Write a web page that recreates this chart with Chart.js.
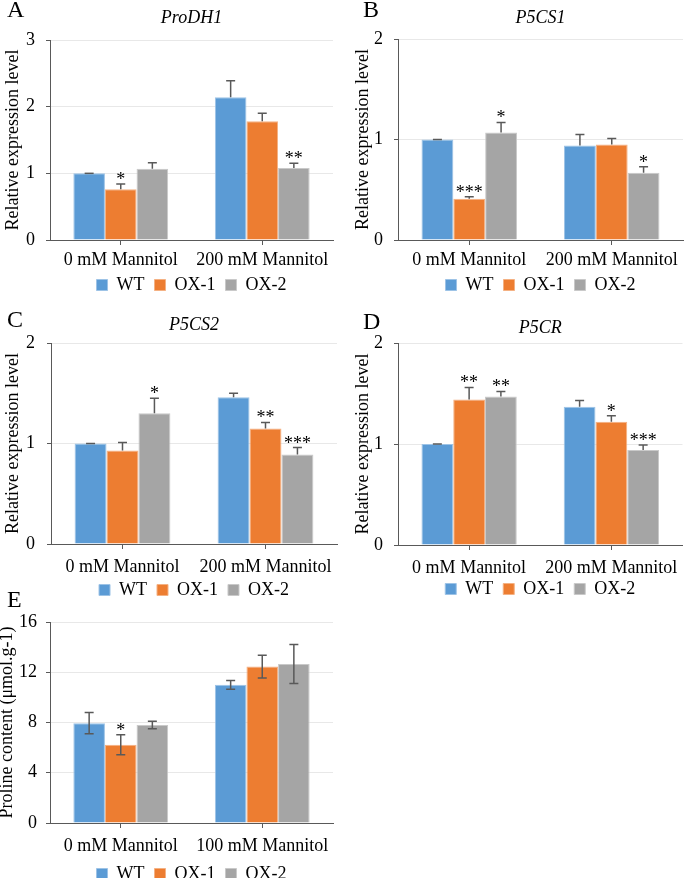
<!DOCTYPE html>
<html>
<head>
<meta charset="utf-8">
<script src="https://cdn.jsdelivr.net/npm/chart.js@4.4.1/dist/chart.umd.min.js"></script>
<style>
  body { margin: 0; background: #fff; overflow: hidden; width: 685px; height: 878px; position: relative; }
  canvas { position: absolute; }
</style>
</head>
<body>
<canvas id="cA" width="340" height="314" style="left:0;top:0"></canvas>
<canvas id="cB" width="345" height="314" style="left:340px;top:0"></canvas>
<canvas id="cC" width="340" height="318" style="left:0;top:300px"></canvas>
<canvas id="cD" width="345" height="319" style="left:340px;top:300px"></canvas>
<canvas id="cE" width="340" height="307" style="left:0;top:590px"></canvas>
<script>
const groups = ['0 mM Mannitol', '200 mM Mannitol'];
const groupsE = ['0 mM Mannitol', '100 mM Mannitol'];
const lines = ['WT', 'OX-1', 'OX-2'];

// A - ProDH1
const prodhWT = [1.00, 2.14], prodhWTErr = [0.00, 0.25];
const prodhOX1 = [0.76, 1.78], prodhOX1Err = [0.08, 0.12];
const prodhOX2 = [1.07, 1.08], prodhOX2Err = [0.09, 0.07];
const prodhStars = [['', ''], ['*', ''], ['', '**']];

// B - P5CS1
const p5cs1WT = [1.00, 0.94], p5cs1WTErr = [0.00, 0.11];
const p5cs1OX1 = [0.41, 0.95], p5cs1OX1Err = [0.02, 0.06];
const p5cs1OX2 = [1.07, 0.67], p5cs1OX2Err = [0.10, 0.06];
const p5cs1Stars = [['', ''], ['***', ''], ['*', '*']];

// C - P5CS2
const p5cs2WT = [1.00, 1.46], p5cs2WTErr = [0.00, 0.04];
const p5cs2OX1 = [0.93, 1.15], p5cs2OX1Err = [0.08, 0.06];
const p5cs2OX2 = [1.30, 0.89], p5cs2OX2Err = [0.15, 0.07];
const p5cs2Stars = [['', ''], ['', '**'], ['*', '***']];

// D - P5CR
const p5crWT = [1.00, 1.37], p5crWTErr = [0.00, 0.06];
const p5crOX1 = [1.44, 1.22], p5crOX1Err = [0.12, 0.06];
const p5crOX2 = [1.47, 0.94], p5crOX2Err = [0.05, 0.05];
const p5crStars = [['', ''], ['**', '*'], ['**', '***']];

// E - proline content
const prolWT = [7.95, 11.00], prolWTErr = [0.85, 0.35];
const prolOX1 = [6.23, 12.45], prolOX1Err = [0.80, 0.90];
const prolOX2 = [7.80, 12.65], prolOX2Err = [0.30, 1.55];
const prolStars = [['', ''], ['*', ''], ['', '']];

const fills = ['#5B9BD5', '#ED7D31', '#A5A5A5'];
const edges = ['#9DC3E6', '#F4B183', '#C9C9C9'];
const serif = '"Liberation Serif", "Times New Roman", serif';
const dark = '#595959';

Chart.defaults.color = '#000';
Chart.defaults.font.family = serif;
Chart.defaults.font.size = 18;

const errPlugin = {
  id: 'errs',
  afterLayout(chart, args, opts) {
    // pull the legend up closer to the axis labels (Excel style)
    const lg = chart.legend;
    if (lg && opts.dy) { lg.top += opts.dy; lg.bottom += opts.dy; }
  },
  afterDatasetsDraw(chart, args, opts) {
    const ctx = chart.ctx, y = chart.scales.y;
    ctx.save();
    chart.data.datasets.forEach((ds, i) => {
      chart.getDatasetMeta(i).data.forEach((bar, j) => {
        const v = ds.data[j], e = ds.err[j];
        const top = y.getPixelForValue(v + e);
        const bot = opts.both ? y.getPixelForValue(v - e) : bar.y;
        ctx.strokeStyle = dark;
        ctx.lineWidth = 1.5;
        ctx.beginPath();
        ctx.moveTo(bar.x, bot); ctx.lineTo(bar.x, top);
        ctx.moveTo(bar.x - 4.5, top); ctx.lineTo(bar.x + 4.5, top);
        if (opts.both) { ctx.moveTo(bar.x - 4.5, bot); ctx.lineTo(bar.x + 4.5, bot); }
        ctx.stroke();
        if (ds.stars[j]) {
          ctx.fillStyle = '#000';
          ctx.font = '18px ' + serif;
          ctx.textAlign = 'center';
          ctx.textBaseline = 'alphabetic';
          ctx.fillText(ds.stars[j], bar.x, top + 1);
        }
      });
    });
    ctx.restore();
  },
  afterDraw(chart, args, opts) {
    const ctx = chart.ctx;
    ctx.save();
    ctx.fillStyle = '#000';
    ctx.font = '24px ' + serif;
    ctx.textBaseline = 'alphabetic';
    ctx.fillText(opts.letter, opts.lx, opts.ly);
    ctx.restore();
  }
};

function panel(id, p) {
  const datasets = lines.map((name, i) => ({
    label: name,
    data: p.values[i],
    err: p.errs[i],
    stars: p.stars[i],
    backgroundColor: fills[i],
    borderColor: edges[i],
    borderWidth: 1,
    barPercentage: 1,
    categoryPercentage: 0.67
  }));
  new Chart(document.getElementById(id), {
    type: 'bar',
    data: { labels: p.labels, datasets },
    plugins: [errPlugin],
    options: {
      responsive: false,
      animation: false,
      events: [],
      layout: { padding: { top: p.padTop || 0, right: p.padRight, left: 0, bottom: 0 } },
      plugins: {
        tooltip: { enabled: false },
        title: {
          display: !!p.title,
          text: p.title,
          fullSize: false,
          font: { size: 18, style: 'italic', weight: 'normal', lineHeight: 1.2 },
          padding: { top: p.titleTop, bottom: p.titleBottom }
        },
        legend: {
          position: 'bottom',
          fullSize: false,
          labels: { boxWidth: 11, boxHeight: 11, padding: 10, font: { size: 18 } }
        },
        errs: { both: p.both, letter: p.letter, lx: p.lx, ly: p.ly, dy: p.legendDy }
      },
      scales: {
        x: {
          grid: { display: true, drawOnChartArea: false, offset: false, tickLength: 5, color: dark },
          border: { color: dark },
          ticks: { padding: p.xPad, maxRotation: 0 },
          afterFit: s => { s.height = 36; }
        },
        y: {
          min: 0, max: p.yMax,
          ticks: { stepSize: p.step, padding: p.yPad },
          grid: { color: '#e8e8e8', tickLength: 4, tickColor: dark },
          border: { color: dark },
          title: { display: true, text: p.yTitle, font: { size: 18, lineHeight: 1.2 }, padding: { top: p.yTitlePad, bottom: 0 } },
          afterFit: s => { s.width = p.yWidth; }
        }
      }
    }
  });
}

panel('cA', {
  labels: groups, values: [prodhWT, prodhOX1, prodhOX2], errs: [prodhWTErr, prodhOX1Err, prodhOX2Err], stars: prodhStars,
  title: 'ProDH1', yTitle: 'Relative expression level', yMax: 3, step: 1, both: false,
  letter: 'A', lx: 7, ly: 17,
  padRight: 7, titleTop: 7.2, titleBottom: 11.2, yWidth: 50, yPad: 11, yTitlePad: 2,
  xPad: 4, legendDy: -10
});
panel('cB', {
  labels: groups, values: [p5cs1WT, p5cs1OX1, p5cs1OX2], errs: [p5cs1WTErr, p5cs1OX1Err, p5cs1OX2Err], stars: p5cs1Stars,
  title: 'P5CS1', yTitle: 'Relative expression level', yMax: 2, step: 1, both: false,
  letter: 'B', lx: 23, ly: 17,
  padRight: 2, titleTop: 7.2, titleBottom: 10.2, yWidth: 58, yPad: 11, yTitlePad: 12.7,
  xPad: 4, legendDy: -10
});
panel('cC', {
  labels: groups, values: [p5cs2WT, p5cs2OX1, p5cs2OX2], errs: [p5cs2WTErr, p5cs2OX1Err, p5cs2OX2Err], stars: p5cs2Stars,
  title: 'P5CS2', yTitle: 'Relative expression level', yMax: 2, step: 1, both: false,
  letter: 'C', lx: 7, ly: 27,
  padRight: 3, titleTop: 14.2, titleBottom: 7.2, yWidth: 51, yPad: 12, yTitlePad: 2.7,
  xPad: 7, legendDy: -9
});
panel('cD', {
  labels: groups, values: [p5crWT, p5crOX1, p5crOX2], errs: [p5crWTErr, p5crOX1Err, p5crOX2Err], stars: p5crStars,
  title: 'P5CR', yTitle: 'Relative expression level', yMax: 2, step: 1, both: false,
  letter: 'D', lx: 23, ly: 29,
  padRight: 2, titleTop: 17.2, titleBottom: 4.2, yWidth: 58, yPad: 11, yTitlePad: 12.7,
  xPad: 7, legendDy: -11
});
panel('cE', {
  labels: groupsE, values: [prolWT, prolOX1, prolOX2], errs: [prolWTErr, prolOX1Err, prolOX2Err], stars: prolStars,
  title: '', yTitle: 'Proline content (μmol.g-1)', yMax: 16, step: 4, both: true,
  letter: 'E', lx: 7, ly: 17,
  padTop: 32, padRight: 7, titleTop: 0, titleBottom: 0, yWidth: 50, yPad: 9, yTitlePad: -4,
  xPad: 7, legendDy: -4
});
</script>
</body>
</html>
